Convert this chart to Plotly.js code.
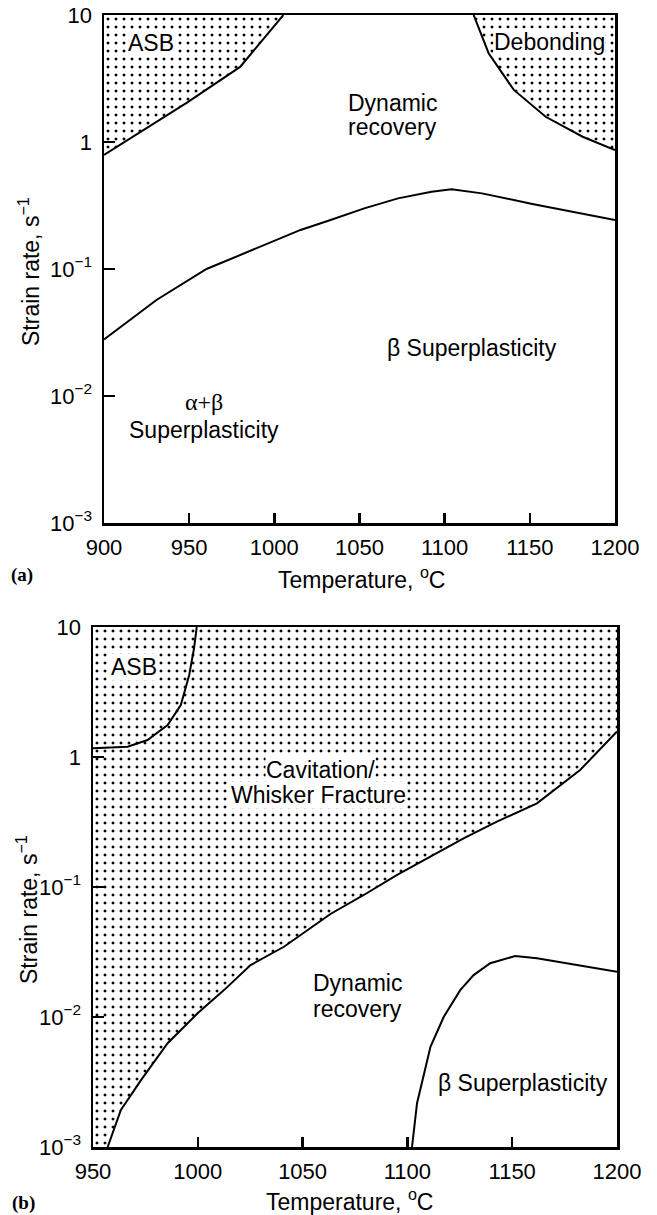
<!DOCTYPE html>
<html>
<head>
<meta charset="utf-8">
<script src="https://cdn.plot.ly/plotly-3.0.1.min.js"></script>
<style>html,body{margin:0;padding:0;background:#fff}#chart{width:657px;height:1215px}</style>
</head>
<body>
<div id="chart"></div>
<script>
// ---------- Panel (a) data: temperature (°C) vs strain rate (1/s) ----------
const aAsbT      = [900, 920.7, 948.5, 979.9, 993.5, 1005.3];
const aAsbRate   = [0.79, 1.18, 2.03, 3.9, 6.4, 10];
const aDebT      = [1117, 1125.8, 1140.6, 1159.3, 1181, 1200];
const aDebRate   = [10, 5.0, 2.57, 1.58, 1.10, 0.865];
const aBetaT     = [900, 930.8, 960.2, 991.7, 1015.4, 1033, 1052.8, 1072.6, 1092.3, 1104, 1121.9, 1151.5, 1200];
const aBetaRate  = [0.0279, 0.057, 0.100, 0.150, 0.203, 0.243, 0.30, 0.36, 0.406, 0.425, 0.394, 0.325, 0.243];

// ---------- Panel (b) data ----------
const bAsbT      = [950, 966.5, 976, 985.6, 991.9, 995.9, 998.2, 999.5];
const bAsbRate   = [1.17, 1.2, 1.35, 1.76, 2.51, 4.27, 6.85, 10];
const bCavT      = [957, 963.3, 972.9, 985.6, 999.9, 1012.5, 1025.2, 1041.1, 1063.3, 1079.2, 1095.1, 1111, 1126.8, 1142.7, 1161.8, 1182.4, 1190.3, 1200];
const bCavRate   = [0.001, 0.00193, 0.00327, 0.00628, 0.01067, 0.0161, 0.0251, 0.0347, 0.062, 0.0868, 0.124, 0.171, 0.237, 0.318, 0.44, 0.794, 1.07, 1.57];
const bBetaT     = [1102.2, 1104.6, 1111, 1117.3, 1125.2, 1131.6, 1139.5, 1151.4, 1161.8, 1200];
const bBetaRate  = [0.001, 0.00217, 0.0059, 0.01, 0.0161, 0.021, 0.0259, 0.0294, 0.0283, 0.0223];

// ---------- Ticks ----------
const yTickVals  = [0.001, 0.01, 0.1, 1, 10];
const yTickText  = ['10<sup>−3</sup>', '10<sup>−2</sup>', '10<sup>−1</sup>', '1', '10'];
const aXTicks    = [900, 950, 1000, 1050, 1100, 1150, 1200];
const bXTicks    = [950, 1000, 1050, 1100, 1150, 1200];

const aRange = [900, 1200], bRange = [950, 1200], rateRange = [0.001, 10];

const FONT = 'Liberation Sans, Arial, Helvetica, sans-serif';
const pat = {shape: '.', size: 8, solidity: 0.11, fgcolor: '#000'};
const lineStyle = {color: '#000', width: 2};

function fillTrace(xs, ys, xa, ya) {
  return {x: xs, y: ys, xaxis: xa, yaxis: ya, mode: 'lines', fill: 'toself',
          fillcolor: 'rgba(0,0,0,0)', fillpattern: pat, line: {width: 0}, hoverinfo: 'skip'};
}
function lineTrace(xs, ys, xa, ya) {
  return {x: xs, y: ys, xaxis: xa, yaxis: ya, mode: 'lines', line: lineStyle, hoverinfo: 'skip'};
}

const traces = [
  fillTrace(aAsbT.concat([aRange[0]]), aAsbRate.concat([rateRange[1]]), 'x', 'y'),
  fillTrace(aDebT.concat([aRange[1]]), aDebRate.concat([rateRange[1]]), 'x', 'y'),
  lineTrace(aAsbT, aAsbRate, 'x', 'y'),
  lineTrace(aDebT, aDebRate, 'x', 'y'),
  lineTrace(aBetaT, aBetaRate, 'x', 'y'),
  fillTrace(bCavT.concat([bRange[1], bRange[0], bRange[0]]),
            bCavRate.concat([rateRange[1], rateRange[1], rateRange[0]]), 'x2', 'y2'),
  lineTrace(bAsbT, bAsbRate, 'x2', 'y2'),
  lineTrace(bCavT, bCavRate, 'x2', 'y2'),
  lineTrace(bBetaT, bBetaRate, 'x2', 'y2')
];

const tickFont = {family: FONT, size: 22, color: '#000'};
function xAxis(range, ticks, domain, anchor) {
  return {range: range, domain: domain, anchor: anchor, tickmode: 'array', tickvals: ticks,
          ticks: 'inside', ticklen: 10, tickwidth: 2.5, tickcolor: '#000',
          showline: true, linewidth: 2.5, linecolor: '#000', mirror: true,
          showgrid: false, zeroline: false, tickfont: tickFont, ticklabelstandoff: 3};
}
function yAxis(domain, anchor) {
  return {type: 'log', range: [-3, 1], domain: domain, anchor: anchor, tickmode: 'array',
          tickvals: yTickVals, ticktext: yTickText,
          ticks: 'inside', ticklen: 11, tickwidth: 2.5, tickcolor: '#000',
          showline: true, linewidth: 2.5, linecolor: '#000', mirror: true,
          showgrid: false, zeroline: false, tickfont: tickFont, ticklabelstandoff: 5};
}

const lbl = {family: FONT, size: 23, color: '#000'};
function dataLbl(text, x, y, xa, ya, font, bg) {
  return {text: text, x: x, y: y, xref: xa, yref: ya, showarrow: false, font: font || lbl,
          bgcolor: bg ? '#fff' : 'rgba(0,0,0,0)', borderpad: 0, xanchor: 'center', yanchor: 'middle'};
}
function paperLbl(text, x, y, font, angle) {
  return {text: text, x: x, y: y, xref: 'paper', yref: 'paper', showarrow: false, font: font,
          textangle: angle || 0, xanchor: 'center', yanchor: 'middle'};
}
const titleFont = {family: FONT, size: 23, color: '#000'};
const panelFont = {family: 'Liberation Serif, Times New Roman, serif', size: 19, color: '#000', weight: 'bold'};
const serifLbl = {family: 'Liberation Serif, Times New Roman, serif', size: 24, color: '#000'};

const annotations = [
  // panel (a)
  dataLbl('ASB', 927.8, 0.78, 'x', 'y', null, true),
  dataLbl('Debonding', 1161.4, 0.79, 'x', 'y', null, true),
  dataLbl('Dynamic', 1069.6, 0.307, 'x', 'y'),
  dataLbl('recovery', 1069.6, 0.118, 'x', 'y'),
  dataLbl('β Superplasticity', 1116, -1.622, 'x', 'y'),
  dataLbl('α+β', 958.6, -2.045, 'x', 'y', serifLbl),
  dataLbl('Superplasticity', 958.6, -2.268, 'x', 'y'),
  // panel (b)
  dataLbl('ASB', 969.5, 0.692, 'x2', 'y2', null, true),
  dataLbl('Cavitation/', 1058.6, -0.1, 'x2', 'y2', null, true),
  dataLbl('Whisker Fracture', 1057.6, -0.292, 'x2', 'y2', null, true),
  dataLbl('Dynamic', 1076.2, -1.738, 'x2', 'y2'),
  dataLbl('recovery', 1076.2, -1.938, 'x2', 'y2'),
  dataLbl('β Superplasticity', 1155.2, -2.508, 'x2', 'y2'),
  // axis titles & panel labels
  paperLbl('Strain rate, s<sup>−1</sup>', 29/657, 1 - 272/1215, titleFont, -90),
  paperLbl('Temperature, <sup>o</sup>C', 361/657, 1 - 578/1215, titleFont),
  paperLbl('(a)', 22/657, 1 - 575/1215, panelFont),
  paperLbl('Strain rate, s<sup>−1</sup>', 27/657, 1 - 910/1215, titleFont, -90),
  paperLbl('Temperature, <sup>o</sup>C', 349/657, 1 - 1200/1215, titleFont),
  paperLbl('(b)', 23/657, 1 - 1203/1215, panelFont)
];

const layout = {
  width: 657, height: 1215,
  margin: {l: 0, r: 0, t: 0, b: 0},
  paper_bgcolor: '#fff', plot_bgcolor: '#fff',
  showlegend: false,
  font: {family: FONT, color: '#000'},
  xaxis: xAxis(aRange, aXTicks, [104/657, 615/657], 'y'),
  yaxis: yAxis([1 - 523/1215, 1 - 15/1215], 'x'),
  xaxis2: xAxis(bRange, bXTicks, [93/657, 617/657], 'y2'),
  yaxis2: yAxis([1 - 1147/1215, 1 - 627/1215], 'x2'),
  annotations: annotations
};

Plotly.newPlot('chart', traces, layout, {staticPlot: true, displayModeBar: false});
</script>
</body>
</html>
